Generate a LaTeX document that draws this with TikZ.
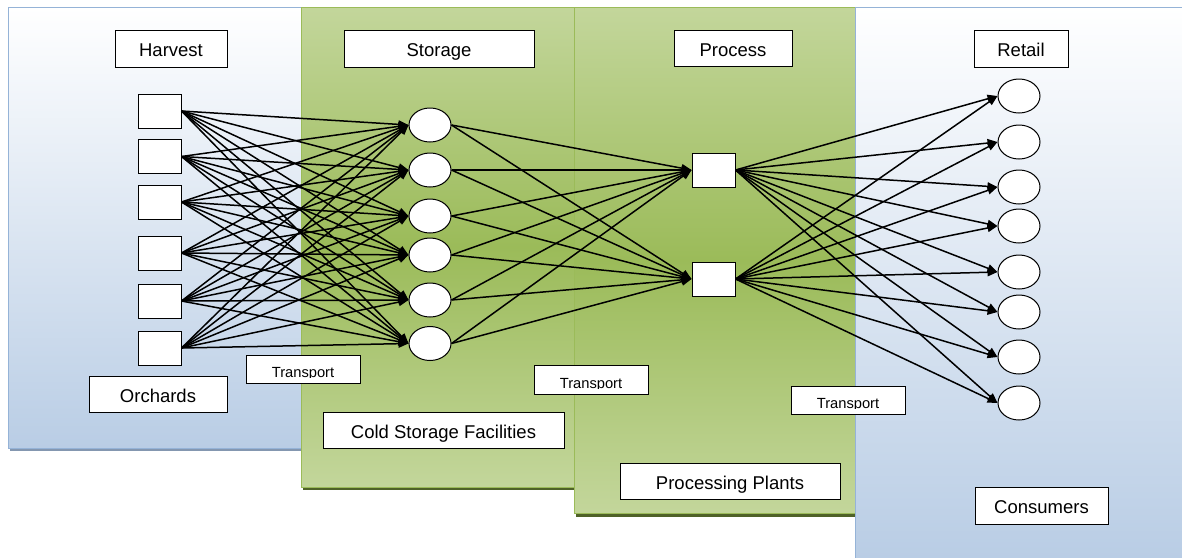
\documentclass[tikz,border=0pt]{standalone}
\usepackage{fontspec}
\setmainfont{Liberation Sans}
\usetikzlibrary{arrows.meta,shapes.geometric}
\definecolor{bluebot}{HTML}{B9CDE5}
\definecolor{blueedge}{HTML}{95B3D7}
\definecolor{blueshadow}{HTML}{8497B0}
\definecolor{greenlight}{HTML}{C3D69B}
\definecolor{greendark}{HTML}{9BBB59}
\definecolor{greenedge}{HTML}{9BBB59}
\definecolor{greenshadow}{HTML}{4F6228}
\begin{document}
\begin{tikzpicture}[x=1pt,y=-1pt,
  lbl/.style={draw=black, line width=1pt, fill=white, inner sep=0pt, text height=16pt, text depth=0pt, font=\fontsize{18.5}{22}\selectfont},
  tbox/.style={draw=black, line width=1pt, fill=white, inner sep=0pt, minimum width=114pt},
  ttext/.style={font=\fontsize{14.7}{17}\selectfont, inner sep=0pt, anchor=base},
  sq/.style={draw=black, line width=1pt, fill=white, minimum width=43pt, minimum height=34pt, inner sep=0pt},
  circ/.style={draw=black, line width=1pt, fill=white, ellipse, minimum width=42pt, minimum height=34pt, inner sep=0pt},
  arr/.style={-{Triangle[length=10pt,width=8pt]}, line width=1.5pt, black},
  bluepanel/.style={top color=white, bottom color=bluebot, draw=blueedge, line width=1pt},
  greenpanel/.style={top color=greenlight, bottom color=greenlight, middle color=greendark, draw=greenedge, line width=1pt}
]
\useasboundingbox (0,0) rectangle (1182,557);
\fill[white] (0,0) rectangle (1182,557);
% panels
\fill[blueshadow] (10,10) rectangle (303,451);
\shade[bluepanel] (8,7) rectangle (301,448);
\fill[greenshadow] (303,10) rectangle (576,490);
\shade[greenpanel] (301,7) rectangle (574,487);
\fill[greenshadow] (576,10) rectangle (857,517);
\shade[greenpanel] (574,7) rectangle (855,513);
\shade[top color=white, bottom color=bluebot] (855,7) rectangle (1183,558);
\draw[blueedge, line width=1pt] (855,558) -- (855,7) -- (1183,7);
% title boxes
\node[lbl, minimum width=112pt, minimum height=37pt] (harvest) at (171,48.5) {Harvest};
\node[lbl, minimum width=190pt, minimum height=37pt] (storage) at (439,48.5) {Storage};
\node[lbl, minimum width=118pt, minimum height=36pt] (process) at (733,48) {Process};
\node[lbl, minimum width=94pt, minimum height=37pt] (retail) at (1021,48.5) {Retail};
\node[lbl, minimum width=138pt, minimum height=36pt] (orchards) at (158,394) {Orchards};
\node[lbl, minimum width=241pt, minimum height=36pt] (cold) at (443.5,430) {Cold Storage Facilities};
\node[lbl, minimum width=220pt, minimum height=36pt] (plants) at (730,481) {Processing Plants};
\node[lbl, minimum width=133pt, minimum height=37pt] (consumers) at (1041.5,505.5) {Consumers};
% transport boxes (text clipped at the bottom)
\node[tbox, minimum height=28pt] (t1) at (303,369) {};
\node[tbox, minimum height=29pt] (t2) at (591,379.5) {};
\node[tbox, minimum height=28pt] (t3) at (848,400) {};
\foreach \t in {t1,t2,t3}{
  \begin{scope}
    \clip ([yshift=0.5pt]\t.north west) rectangle ([yshift=6.5pt]\t.south east);
    \node[ttext] (\t txt) at ([yshift=6pt]\t.south) {Transport};
  \end{scope}
}
% harvest squares
\foreach \y [count=\i] in {111,156.5,202,253,301,348}
  \node[sq] (h\i) at (159.5,\y) {};
% storage circles
\foreach \y [count=\i] in {125,170,216,255,300,343.5}
  \node[circ] (s\i) at (430,\y) {};
% process squares
\foreach \y [count=\i] in {170,279}
  \node[sq] (p\i) at (713.5,\y) {};
% retail circles
\foreach \y [count=\i] in {96,142,187,226,272,312,357,403}
  \node[circ] (r\i) at (1019,\y) {};
% connectors
\foreach \i in {1,...,6}
  \foreach \j in {1,...,6}
    \draw[arr] (h\i.east) -- (s\j.west);
\foreach \i in {1,...,6}
  \foreach \j in {1,2}
    \draw[arr] (s\i.east) -- (p\j.west);
\foreach \i in {1,2}
  \foreach \j in {1,...,8}
    \draw[arr] (p\i.east) -- (r\j.west);
\end{tikzpicture}
\end{document}
